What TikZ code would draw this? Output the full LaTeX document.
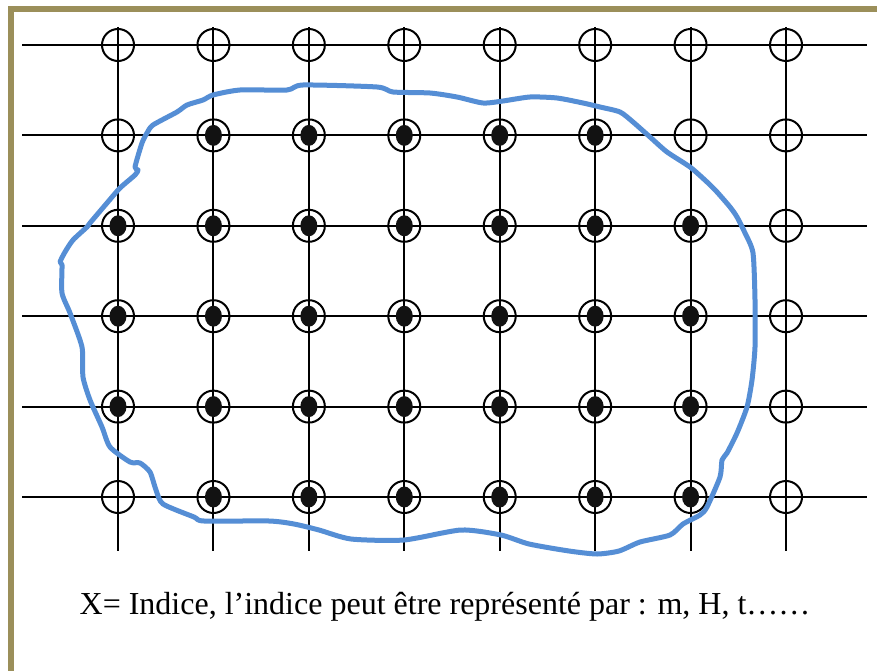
\documentclass[tikz,border=0pt]{standalone}
\usepackage{fontspec}
\setmainfont{Liberation Serif}
\definecolor{framecol}{RGB}{155,143,90}
\definecolor{curvecol}{RGB}{85,142,213}
\begin{document}
\begin{tikzpicture}[x=1pt,y=-1pt,
  gridline/.style={line width=2pt, black},
  openpt/.style={circle, draw=black, line width=2pt, minimum size=32pt, inner sep=0pt},
  fullpt/.style={openpt, path picture={\fill[black!93] (path picture bounding box.center) ellipse[x radius=8.5pt, y radius=10.5pt];}},
  outline/.style={curvecol, line width=5pt, line join=round, line cap=round},
  caption/.style={font=\fontsize{32}{37}\selectfont, inner sep=0pt}]
\useasboundingbox (0,0) rectangle (877,671);
\clip (0,0) rectangle (877,671);
\fill[white] (0,0) rectangle (877,671);
% frame
\draw[framecol, line width=6pt] (10.5,9.5) rectangle (900,674);
% grid lines
\foreach \j in {0,...,5} {
  \coordinate (rl\j) at (22,{45+90.4*\j});
  \coordinate (rr\j) at (867,{45+90.4*\j});
  \draw[gridline] (rl\j) -- (rr\j);
}
\foreach \i in {0,...,7} {
  \coordinate (ct\i) at ({118+95.43*\i},27);
  \coordinate (cb\i) at ({118+95.43*\i},551);
  \draw[gridline] (ct\i) -- (cb\i);
}
% points
\foreach \i in {0,...,7} \node[openpt] (n\i-0) at ({118+95.43*\i},45) {};
\foreach \i in {0,6,7} \node[openpt] (n\i-1) at ({118+95.43*\i},135.4) {};
\foreach \i in {1,...,5} \node[fullpt] (n\i-1) at ({118+95.43*\i},135.4) {};
\foreach \j in {2,3,4} {
  \foreach \i in {0,...,6} \node[fullpt] (n\i-\j) at ({118+95.43*\i},{45+90.4*\j}) {};
  \node[openpt] (n7-\j) at (786,{45+90.4*\j}) {};
}
\foreach \i in {0,7} \node[openpt] (n\i-5) at ({118+95.43*\i},497) {};
\foreach \i in {1,...,6} \node[fullpt] (n\i-5) at ({118+95.43*\i},497) {};
% blue outline
\draw[outline] plot[smooth cycle, tension=0.4] coordinates {
(135,167) (142,143) (147,133) (153,125) (177,112) (187,105) (203,100) (213,95) (240,90) (287,90) (303,85) (377,87) (393,92) (430,93) (457,97) (483,103) (503,101) (530,97) (557,98) (583,103) (600,107) (620,112) (633,122) (650,137) (667,152) (690,167) (707,182) (717,192) (730,207) (737,217) (745,233) (753,253) (755,300) (755,347) (752,380) (747,407) (737,433) (727,453) (722,460) (720,477) (707,507) (700,515) (683,524) (670,535) (640,542) (619,551) (597,554) (569,551) (529,544) (501,535) (461,530) (404,540) (351,539) (319,530) (294,524) (269,521) (204,521) (194,517) (163,504) (156,490) (150,472) (140,463) (130,462) (110,447) (102,427) (90,400) (83,377) (82,347) (70,313) (62,293) (62,265) (60,262) (65,252) (73,240) (87,227) (90,223) (107,203) (120,188) (135,175) (138,170)};
% caption
\node[caption, anchor=base] (cap) at (445,614) {X= Indice, l’indice peut être représenté par : m, H, t……};
\end{tikzpicture}
\end{document}
